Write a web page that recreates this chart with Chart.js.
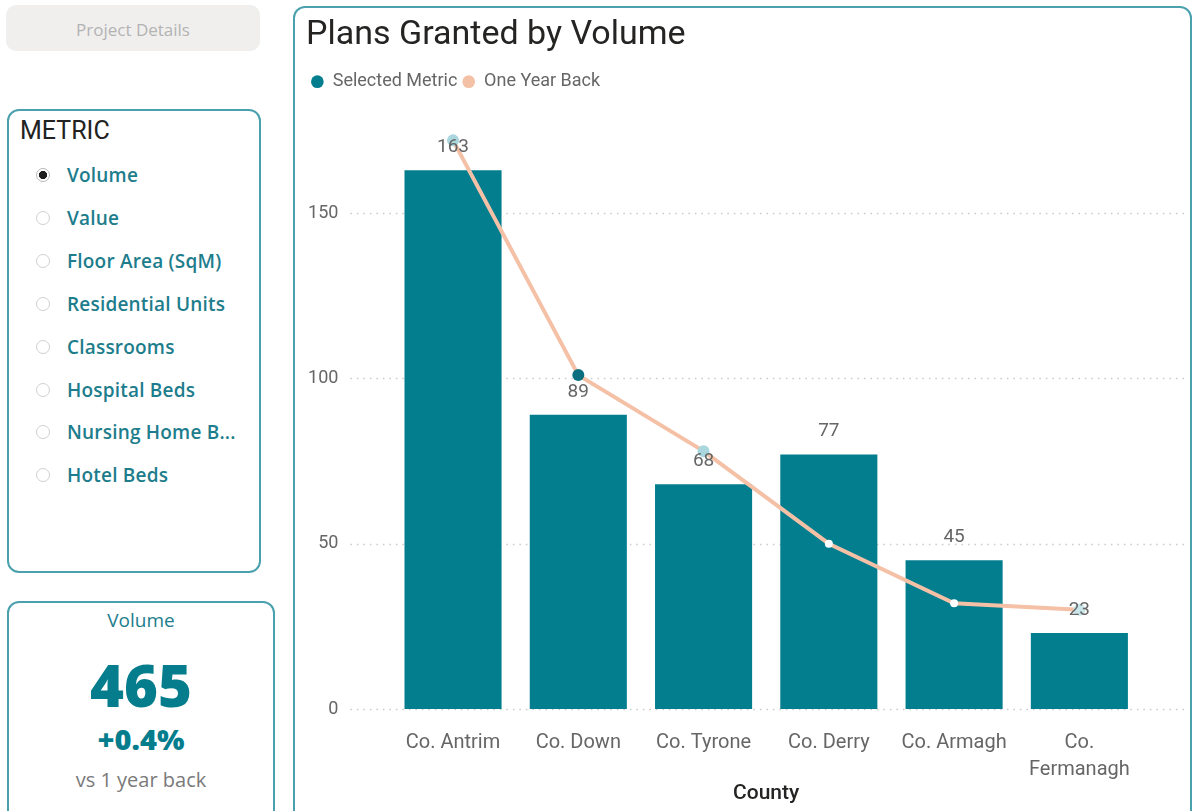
<!DOCTYPE html>
<html>
<head>
<meta charset="utf-8">
<script src="https://cdn.jsdelivr.net/npm/chart.js@4.4.0/dist/chart.umd.min.js"></script>
<style>
  body { margin: 0; width: 1192px; height: 811px; background: #fff; position: relative; overflow: hidden; font-family: 'Open Sans', sans-serif; }
  .btn { position: absolute; left: 6px; top: 5px; width: 254px; height: 46px; background: #f0efee; border-radius: 10px;
         color: #b3b3b3; font-size: 17px; text-align: center; line-height: 50px; }
  .panel { position: absolute; border: 2px solid #4aa1ad; border-radius: 12px; box-sizing: border-box; }
  #metric { left: 7px; top: 109px; width: 254px; height: 464px; }
  #metric h3 { margin: 0; position: absolute; left: 11px; top: 5px; font: 400 25px Roboto, sans-serif; color: #222; }
  .opt { position: absolute; left: 0; height: 24px; line-height: 24px; font-size: 19px; color: #1d7d8c; }
  .opt span.r { position: absolute; left: 27px; top: 5px; width: 14px; height: 14px; border: 1.5px solid #d0d0d0; border-radius: 50%; box-sizing: border-box; }
  .opt span.r.on { border-color: #b8b8b8; background: radial-gradient(circle, #1e1e1e 0 3.8px, #fff 4.4px); }
  .opt b { position: absolute; left: 58px; white-space: nowrap; font-weight: 600; letter-spacing: 0.2px; }
  #card { left: 7px; top: 601px; width: 268px; height: 240px; text-align: center; }
  #card .t { position: absolute; left: 0; right: 0; top: 4px; font-size: 19px; color: #1d7d8c; }
  #card .v { position: absolute; left: 0; right: 0; top: 47px; font-size: 58px; font-weight: 800; color: #067d8d; line-height: 70px; }
  #card .p { position: absolute; left: 0; right: 0; top: 116px; font-size: 29px; font-weight: 800; color: #067d8d; }
  #card .s { position: absolute; left: 0; right: 0; top: 163px; font-size: 20px; color: #7a7a7a; }
  #chartbox { left: 293px; top: 6px; width: 899px; height: 830px; }
  #wrap { position: absolute; left: 295px; top: 8px; width: 893px; height: 803px; }
</style>
</head>
<body>
<div class="btn">Project Details</div>

<div class="panel" id="metric">
  <h3>METRIC</h3>
</div>

<div class="panel" id="card">
  <div class="t">Volume</div>
  <div class="v">465</div>
  <div class="p">+0.4%</div>
  <div class="s">vs 1 year back</div>
</div>

<div class="panel" id="chartbox"></div>
<div id="wrap"><canvas id="chart"></canvas></div>

<script>
const metricOptions = ['Volume', 'Value', 'Floor Area (SqM)', 'Residential Units', 'Classrooms', 'Hospital Beds', 'Nursing Home B...', 'Hotel Beds'];

const counties = ['Co. Antrim', 'Co. Down', 'Co. Tyrone', 'Co. Derry', 'Co. Armagh', ['Co.', 'Fermanagh']];
const selectedMetric = [163, 89, 68, 77, 45, 23];
const oneYearBack = [172, 101, 78, 50, 32, 30];
const yTickValues = [0, 50, 100, 150];

const teal = '#037e8f';
const peach = '#f4c0a6';

// radio list on the left
let metricBox = document.getElementById('metric');
metricOptions.forEach((name, i) => {
  let row = document.createElement('div');
  row.className = 'opt';
  row.style.top = (52 + i * 42.9) + 'px';
  row.innerHTML = '<span class="r' + (i === 0 ? ' on' : '') + '"></span><b></b>';
  row.querySelector('b').innerText = name;
  metricBox.appendChild(row);
});

// dotted horizontal grid, a bit wider than the plot like power bi does
const dottedGrid = {
  id: 'dottedGrid',
  beforeDatasetsDraw(chart) {
    let ctx = chart.ctx;
    let area = chart.chartArea;
    let y = chart.scales.y;
    ctx.save();
    ctx.strokeStyle = '#c9c9c9';
    ctx.lineWidth = 1.5;
    ctx.setLineDash([1.5, 5]);
    y.ticks.forEach(t => {
      let py = Math.round(y.getPixelForValue(t.value)) + 0.5;
      ctx.beginPath();
      ctx.moveTo(area.left - 40, py);
      ctx.lineTo(area.right + 42, py);
      ctx.stroke();
    });
    ctx.restore();
  }
};

// value labels over the bars
const barLabels = {
  id: 'barLabels',
  afterDatasetsDraw(chart) {
    let ctx = chart.ctx;
    let meta = chart.getDatasetMeta(0);
    ctx.save();
    ctx.font = '19px Roboto';
    ctx.fillStyle = '#666';
    ctx.textAlign = 'center';
    ctx.textBaseline = 'middle';
    meta.data.forEach((bar, i) => {
      ctx.fillText(selectedMetric[i], bar.x, bar.y - 23);
    });
    ctx.restore();
  }
};

const legendColors = [teal, peach];

new Chart(document.getElementById('chart'), {
  data: {
    labels: counties,
    datasets: [
      {
        type: 'bar',
        label: 'Selected Metric',
        data: selectedMetric,
        backgroundColor: teal,
        categoryPercentage: 1,
        barPercentage: 0.775,
        order: 1
      },
      {
        type: 'line',
        label: 'One Year Back',
        data: oneYearBack,
        borderColor: peach,
        backgroundColor: peach,
        borderWidth: 4,
        tension: 0,
        pointRadius: [6, 6, 6, 4, 4, 6],
        pointBorderWidth: 0,
        pointBackgroundColor: ['#a9d7dd', '#0b6f80', '#a9d7dd', '#ffffff', '#ffffff', '#c9e6ea'],
        order: 0
      }
    ]
  },
  options: {
    responsive: true,
    maintainAspectRatio: false,
    animation: false,
    layout: { padding: { left: 11, right: 46, top: 0, bottom: 5 } },
    plugins: {
      tooltip: { enabled: false },
      title: {
        display: true,
        text: 'Plans Granted by Volume',
        align: 'start',
        color: '#252423',
        font: { family: 'Roboto', size: 34, weight: '400', lineHeight: 1.2 },
        padding: { top: 6.6, bottom: 12.3 }
      },
      legend: {
        display: true,
        align: 'start',
        labels: {
          usePointStyle: true,
          boxHeight: 9,
          pointStyleWidth: 12.7,
          padding: 5,
          color: '#666',
          font: { family: 'Roboto', size: 18 },
          sort: (a, b) => a.datasetIndex - b.datasetIndex,
          generateLabels: chart => Chart.defaults.plugins.legend.labels.generateLabels(chart).map(l => {
            let c = legendColors[l.datasetIndex];
            return { ...l, fillStyle: c, strokeStyle: c, lineWidth: 0, pointStyle: 'circle' };
          })
        }
      }
    },
    scales: {
      x: {
        offset: true,
        grid: { display: false, drawTicks: false },
        border: { display: false },
        ticks: {
          color: '#666',
          font: { family: 'Roboto', size: 20, lineHeight: 1.35 },
          padding: 20,
          maxRotation: 0,
          autoSkip: false
        },
        title: {
          display: true,
          text: 'County',
          color: '#252423',
          font: { family: 'Roboto', size: 21, weight: '500', lineHeight: 1.2 },
          padding: { top: 0, bottom: 0 }
        },
        afterFit: s => { s.height = 97; }
      },
      y: {
        min: 0,
        max: 184,
        grid: { display: false, drawTicks: false },
        border: { display: false },
        ticks: {
          stepSize: 50,
          color: '#666',
          font: { family: 'Roboto', size: 18 },
          padding: 52
        },
        afterBuildTicks: s => { s.ticks = yTickValues.map(v => ({ value: v })); },
        afterFit: s => { s.width = 84.4; }
      }
    }
  },
  plugins: [dottedGrid, barLabels]
});
</script>
</body>
</html>
